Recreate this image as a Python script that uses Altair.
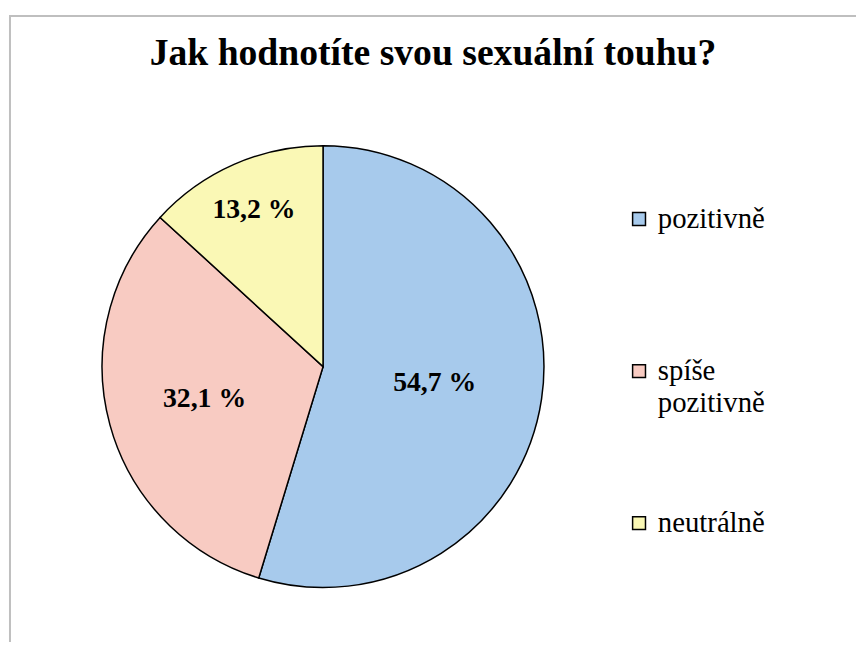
import altair as alt
import pandas as pd

# --- data ---
categories = ["pozitivně", "spíše pozitivně", "neutrálně"]
values = [54.7, 32.1, 13.2]
value_labels = ["54,7 %", "32,1 %", "13,2 %"]
legend_labels = ["pozitivně", "spíše\npozitivně", "neutrálně"]
colors = ["#A7CAEC", "#F8CBC2", "#FAF8B5"]
title_text = "Jak hodnotíte svou sexuální touhu?"

df = pd.DataFrame({
    "kategorie": categories,
    "podil": values,
    "popisek": value_labels,
    "legenda": legend_labels,
})

FONT = "Liberation Serif"
CX, CY = 318, 359

color_scale = alt.Scale(domain=categories, range=colors)
base = alt.Chart(df).transform_window(poradi="row_number()")

pie = base.mark_arc(outerRadius=223, stroke="black", strokeWidth=1.5).encode(
    theta=alt.Theta("podil:Q", stack=True),
    color=alt.Color("kategorie:N", scale=color_scale, legend=None),
    order=alt.Order("poradi:Q"),
    x=alt.value(CX),
    y=alt.value(CY),
)

labels = base.transform_window(
    kum="sum(podil)", sort=[alt.SortField("poradi")],
    frame=[None, 0],
).transform_calculate(
    stred="datum.kum - datum.podil / 2",
    r="datum.kategorie == 'pozitivně' ? 114 : (datum.kategorie == 'neutrálně' ? 173 : 124)",
).mark_text(font=FONT, fontSize=28, fontWeight="bold", align="center",
            baseline="middle", color="black").encode(
    theta=alt.Theta("stred:Q", stack=None),
    radius=alt.Radius("r:Q", scale=None),
    text="popisek:N",
    x=alt.value(CX),
    y=alt.value(CY),
)

leg_y = alt.Y("kategorie:N", sort=categories,
              scale=alt.Scale(type="point", range=[210, 517], padding=0),
              axis=None)

squares = base.mark_square(size=169, stroke="black", strokeWidth=1.5, opacity=1).encode(
    x=alt.value(637),
    y=leg_y,
    color=alt.Color("kategorie:N", scale=color_scale, legend=None),
)

leg_text = base.mark_text(font=FONT, fontSize=29, align="left", baseline="alphabetic",
                          dy=9, lineBreak="\n", lineHeight=32, color="black").encode(
    x=alt.value(656),
    y=leg_y,
    text="legenda:N",
)

frame = alt.Chart(pd.DataFrame({"f": [0]})).mark_rect(
    filled=False, stroke="#BFBFBF", strokeWidth=2, clip=True
).encode(
    x=alt.value(2), y=alt.value(5), x2=alt.value(1200), y2=alt.value(1200)
)

chart = alt.layer(frame, pie, labels, squares, leg_text).properties(
    width=856,
    height=637,
    padding=0,
    autosize=alt.AutoSizeParams(type="none"),
    background="white",
    title=alt.TitleParams(title_text, font=FONT, fontSize=38, fontWeight="bold",
                          color="black", anchor="middle", baseline="alphabetic",
                          dx=1, dy=93, offset=0),
).configure_view(strokeWidth=0)

chart.save("out.html", embed_options={"renderer": "svg", "actions": False})
